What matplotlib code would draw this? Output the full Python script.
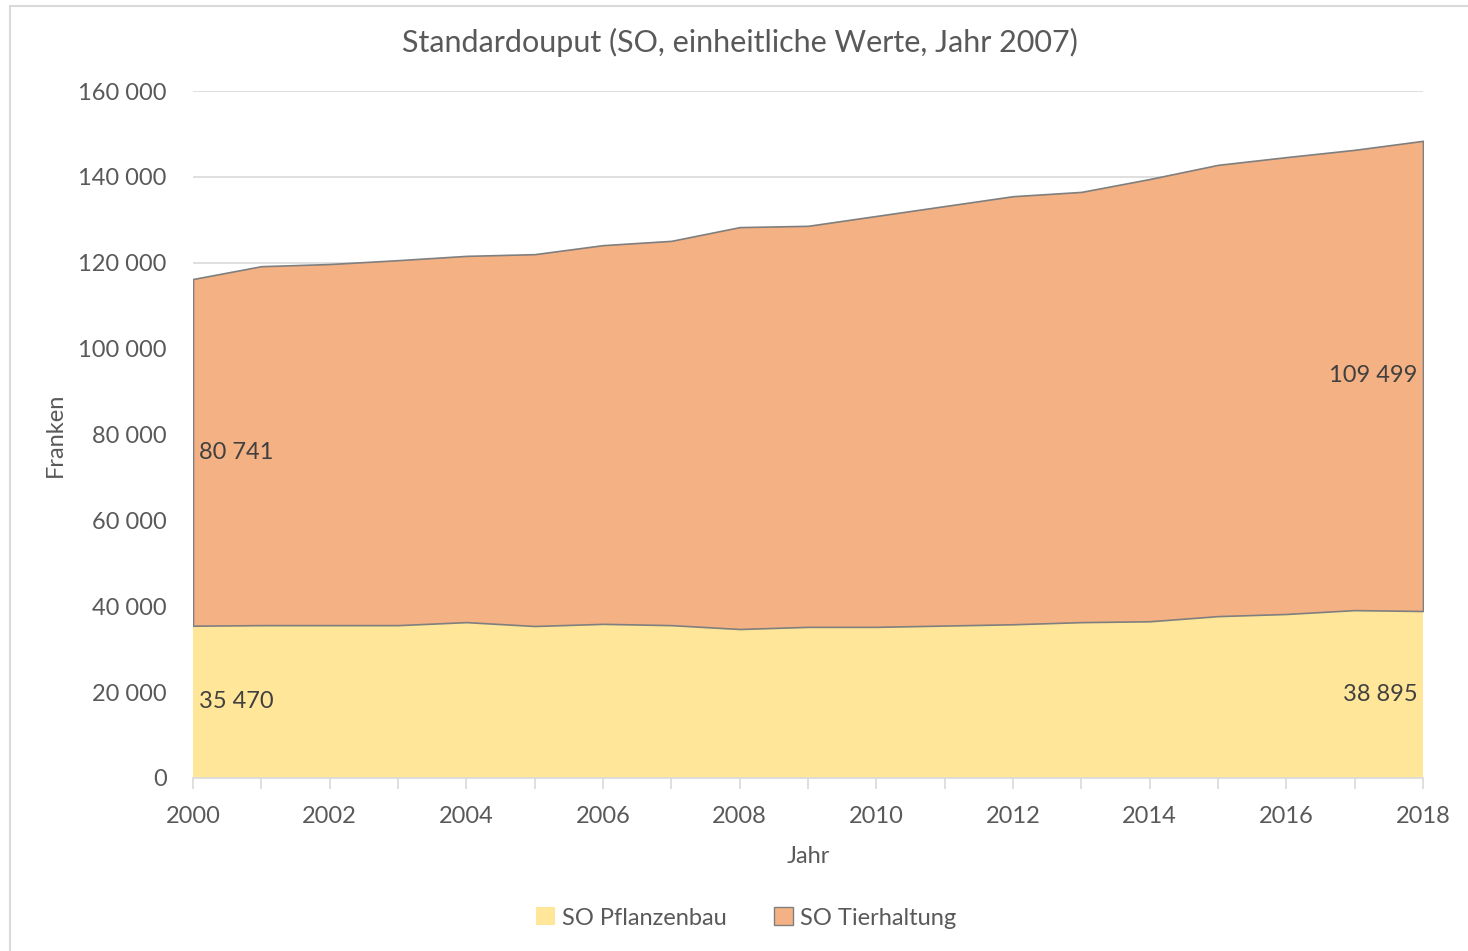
import matplotlib
matplotlib.use("Agg")
import matplotlib.pyplot as plt
from matplotlib.patches import Rectangle, Patch
from matplotlib.ticker import FuncFormatter, MultipleLocator

years = list(range(2000, 2019))
pflanzenbau = [35470, 35600, 35600, 35600, 36300, 35400, 35900, 35600, 34700, 35200,
               35200, 35500, 35800, 36300, 36500, 37700, 38200, 39100, 38895]
total = [116211, 119200, 119700, 120600, 121600, 122000, 124100, 125100, 128300, 128600,
         130900, 133200, 135500, 136500, 139500, 142800, 144600, 146300, 148394]
tierhaltung = [t - p for t, p in zip(total, pflanzenbau)]

title = "Standardouput (SO, einheitliche Werte, Jahr 2007)"
series_names = ["SO Pflanzenbau", "SO Tierhaltung"]

plt.rcParams["font.family"] = ["Lato", "DejaVu Sans"]
txt = "#595959"
yellow = "#FFE699"
orange = "#F4B183"
edge = "#7f7f7f"

fig = plt.figure(figsize=(14.68, 9.51), dpi=100)
ax = fig.add_axes([193 / 1468, 1 - 778 / 951, (1423 - 193) / 1468, (778 - 91) / 951])

# chart border like Excel (right/bottom fall outside the picture)
fig.patches.append(Rectangle((10 / 1468, -0.1), 1.2, 1 - 6 / 951 + 0.1, transform=fig.transFigure,
                             fill=False, edgecolor="#d9d9d9", linewidth=1.5))

ax.fill_between(years, 0, pflanzenbau, facecolor=yellow, edgecolor="none", zorder=2)
ax.fill_between(years, pflanzenbau, total, facecolor=orange, edgecolor=edge, linewidth=1.2, zorder=3)

ax.set_xlim(2000, 2018)
ax.set_ylim(0, 160000)
ax.yaxis.set_major_locator(MultipleLocator(20000))
ax.yaxis.set_major_formatter(FuncFormatter(lambda v, p: f"{int(v):,}".replace(",", " ")))
ax.xaxis.set_major_locator(MultipleLocator(2))
ax.xaxis.set_minor_locator(MultipleLocator(1))
ax.grid(axis="y", color="#d9d9d9", linewidth=1.2, zorder=0)
ax.set_axisbelow(True)
for s in ["top", "right", "left"]:
    ax.spines[s].set_visible(False)
ax.spines["bottom"].set_color("#d9d9d9")
ax.spines["bottom"].set_linewidth(1.2)
ax.spines["bottom"].set_zorder(4)
ax.tick_params(axis="y", length=0, pad=19, labelsize=17, labelcolor=txt)
ax.tick_params(axis="x", which="both", length=8, width=1.2, color="#d9d9d9",
               pad=12, labelsize=17, labelcolor=txt)

fig.text(740 / 1468, 1 - 42 / 951, title, fontsize=22, color=txt, ha="center", va="center")
ax.set_xlabel("Jahr", fontsize=17, color=txt, labelpad=14)
ax.set_ylabel("Franken", fontsize=17, color=txt, labelpad=9)

# data labels at first and last year
lab = lambda v: f"{v:,}".replace(",", " ")
ax.annotate(lab(tierhaltung[0]), (years[0], (pflanzenbau[0] + total[0]) / 2), xytext=(4, 0),
            textcoords="offset points", ha="left", va="center", fontsize=17, color="#404040", zorder=5)
ax.annotate(lab(pflanzenbau[0]), (years[0], pflanzenbau[0] / 2), xytext=(4, 0),
            textcoords="offset points", ha="left", va="center", fontsize=17, color="#404040", zorder=5)
ax.annotate(lab(tierhaltung[-1]), (years[-1], (pflanzenbau[-1] + total[-1]) / 2), xytext=(-4, 0),
            textcoords="offset points", ha="right", va="center", fontsize=17, color="#404040", zorder=5)
ax.annotate(lab(pflanzenbau[-1]), (years[-1], pflanzenbau[-1] / 2), xytext=(-4, 0),
            textcoords="offset points", ha="right", va="center", fontsize=17, color="#404040", zorder=5)

handles = [Patch(facecolor=yellow, edgecolor="none"), Patch(facecolor=orange, edgecolor=edge)]
fig.legend(handles, series_names, loc="center", bbox_to_anchor=(746 / 1468, 1 - 918 / 951), ncol=2,
           frameon=False, fontsize=17, labelcolor=txt, handlelength=0.8, handleheight=0.8,
           handletextpad=0.3, columnspacing=2.0)

fig.savefig("out.png")
